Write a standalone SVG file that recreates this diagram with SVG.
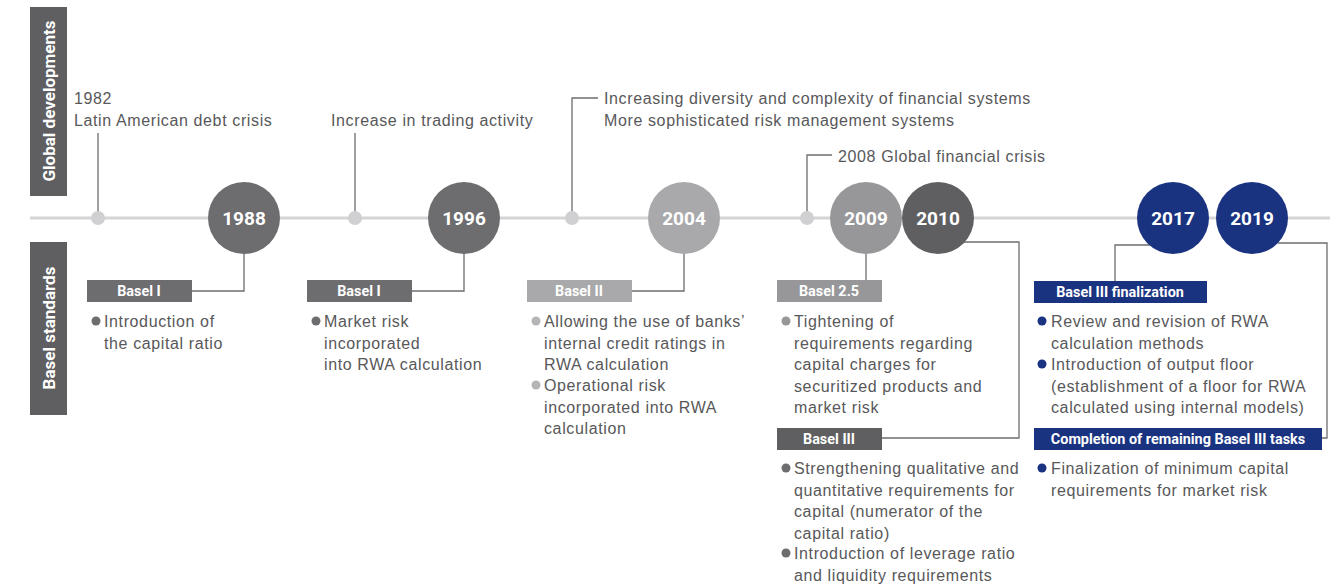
<svg xmlns="http://www.w3.org/2000/svg" width="1338" height="585" viewBox="0 0 1338 585">
<style>
.t{font-family:"Liberation Sans",Arial,sans-serif;font-size:16px;letter-spacing:0.62px;fill:#58585a}
.yr{font-family:Roboto,"Liberation Sans",sans-serif;font-size:19px;font-weight:bold;fill:#fff;text-anchor:middle}
.lb{font-family:"Liberation Sans Narrow",Roboto,"Liberation Sans",sans-serif;font-size:14.4px;font-weight:bold;fill:#fff;text-anchor:middle}
.side{font-family:"Liberation Sans Narrow",Roboto,"Liberation Sans",sans-serif;font-size:17px;font-weight:bold;fill:#fff;text-anchor:middle}
.ln{fill:none;stroke:#6d6d70;stroke-width:1.3}
.tl{stroke:#d5d5d7;stroke-width:3}
.dot{fill:#d0d0d2}
</style>
<rect width="1338" height="585" fill="#fff"/>
<g id="side-global"><rect x="30" y="7" width="37" height="189" fill="#5f5f62"/><text class="side" transform="translate(55,101) rotate(-90)">Global developments</text></g>
<g id="side-basel"><rect x="30" y="242" width="37" height="173" fill="#5f5f62"/><text class="side" transform="translate(55,328) rotate(-90)">Basel standards</text></g>
<line class="tl" x1="30" y1="218" x2="1330" y2="218"/>
<g id="connectors">
<path class="ln" d="M98,133V218"/>
<path class="ln" d="M355,133V218"/>
<path class="ln" d="M572,218V98H598"/>
<path class="ln" d="M807,218V155H832"/>
<path class="ln" d="M244,254V291H192"/>
<path class="ln" d="M464,254V291H412"/>
<path class="ln" d="M684,254V291H632"/>
<path class="ln" d="M866,254V280"/>
<path class="ln" d="M960,242H1019V438H882"/>
<path class="ln" d="M1150,245H1115V281"/>
<path class="ln" d="M1278,243H1327V438H1322"/>
</g>
<g id="dots"><circle class="dot" cx="98" cy="218" r="7"/><circle class="dot" cx="355" cy="218" r="7"/><circle class="dot" cx="572" cy="218" r="7"/><circle class="dot" cx="807" cy="218" r="7"/></g>
<g id="ev1982"><text class="t" x="74" y="104">1982</text><text class="t" x="74" y="126">Latin American debt crisis</text></g>
<g id="ev-trading"><text class="t" x="331" y="126">Increase in trading activity</text></g>
<g id="ev-diversity"><text class="t" x="604" y="104">Increasing diversity and complexity of financial systems</text><text class="t" x="604" y="126">More sophisticated risk management systems</text></g>
<g id="ev2008"><text class="t" x="838" y="162">2008 Global financial crisis</text></g>
<g id="y1988"><circle cx="244" cy="218" r="36" fill="#6d6d70"/><text class="yr" x="244" y="225">1988</text></g>
<g id="y1996"><circle cx="464" cy="218" r="36" fill="#6d6d70"/><text class="yr" x="464" y="225">1996</text></g>
<g id="y2004"><circle cx="684" cy="218" r="36" fill="#a9a9ab"/><text class="yr" x="684" y="225">2004</text></g>
<g id="y2009"><circle cx="866" cy="218" r="36" fill="#97979a"/><text class="yr" x="866" y="225">2009</text></g>
<g id="y2010"><circle cx="938" cy="218" r="36" fill="#5f5f62"/><text class="yr" x="938" y="225">2010</text></g>
<g id="y2017"><circle cx="1173" cy="218" r="36" fill="#1a3380"/><text class="yr" x="1173" y="225">2017</text></g>
<g id="y2019"><circle cx="1252" cy="218" r="36" fill="#1a3380"/><text class="yr" x="1252" y="225">2019</text></g>
<g id="basel1-1988"><rect x="87" y="280" width="105" height="22" fill="#6d6d70"/><text class="lb" x="139" y="296">Basel I</text>
<circle cx="96" cy="321" r="4.5" fill="#6d6d70"/><text class="t" x="104" y="327">Introduction of</text><text class="t" x="104" y="349">the capital ratio</text></g>
<g id="basel1-1996"><rect x="307" y="280" width="105" height="22" fill="#6d6d70"/><text class="lb" x="359" y="296">Basel I</text>
<circle cx="316" cy="321" r="4.5" fill="#6d6d70"/><text class="t" x="324" y="327">Market risk</text><text class="t" x="324" y="349">incorporated</text><text class="t" x="324" y="370">into RWA calculation</text></g>
<g id="basel2"><rect x="527" y="280" width="105" height="22" fill="#a9a9ab"/><text class="lb" x="579" y="296">Basel II</text>
<circle cx="536" cy="321" r="4.5" fill="#b5b5b7"/><text class="t" x="544" y="327">Allowing the use of banks’</text><text class="t" x="544" y="349">internal credit ratings in</text><text class="t" x="544" y="370">RWA calculation</text>
<circle cx="536" cy="385" r="4.5" fill="#b5b5b7"/><text class="t" x="544" y="391">Operational risk</text><text class="t" x="544" y="413">incorporated into RWA</text><text class="t" x="544" y="434">calculation</text></g>
<g id="basel25"><rect x="777" y="280" width="105" height="22" fill="#97979a"/><text class="lb" x="829" y="296">Basel 2.5</text>
<circle cx="786" cy="321" r="4.5" fill="#97979a"/><text class="t" x="794" y="327">Tightening of</text><text class="t" x="794" y="349">requirements regarding</text><text class="t" x="794" y="370">capital charges for</text><text class="t" x="794" y="392">securitized products and</text><text class="t" x="794" y="413">market risk</text></g>
<g id="basel3"><rect x="777" y="428" width="105" height="22" fill="#5f5f62"/><text class="lb" x="829" y="444">Basel III</text>
<circle cx="786" cy="468" r="4.5" fill="#6d6d70"/><text class="t" x="794" y="474">Strengthening qualitative and</text><text class="t" x="794" y="496">quantitative requirements for</text><text class="t" x="794" y="517">capital (numerator of the</text><text class="t" x="794" y="539">capital ratio)</text>
<circle cx="786" cy="553" r="4.5" fill="#6d6d70"/><text class="t" x="794" y="559">Introduction of leverage ratio</text><text class="t" x="794" y="581">and liquidity requirements</text></g>
<g id="basel3-final"><rect x="1034" y="281" width="173" height="22" fill="#1a3380"/><text class="lb" x="1120" y="297">Basel III finalization</text>
<circle cx="1042" cy="321" r="4.5" fill="#1a3380"/><text class="t" x="1051" y="327">Review and revision of RWA</text><text class="t" x="1051" y="349">calculation methods</text>
<circle cx="1042" cy="364" r="4.5" fill="#1a3380"/><text class="t" x="1051" y="370">Introduction of output floor</text><text class="t" x="1051" y="392">(establishment of a floor for RWA</text><text class="t" x="1051" y="413">calculated using internal models)</text></g>
<g id="basel3-completion"><rect x="1034" y="428" width="288" height="22" fill="#1a3380"/><text class="lb" x="1178" y="444">Completion of remaining Basel III tasks</text>
<circle cx="1042" cy="468" r="4.5" fill="#1a3380"/><text class="t" x="1051" y="474">Finalization of minimum capital</text><text class="t" x="1051" y="496">requirements for market risk</text></g>
</svg>
